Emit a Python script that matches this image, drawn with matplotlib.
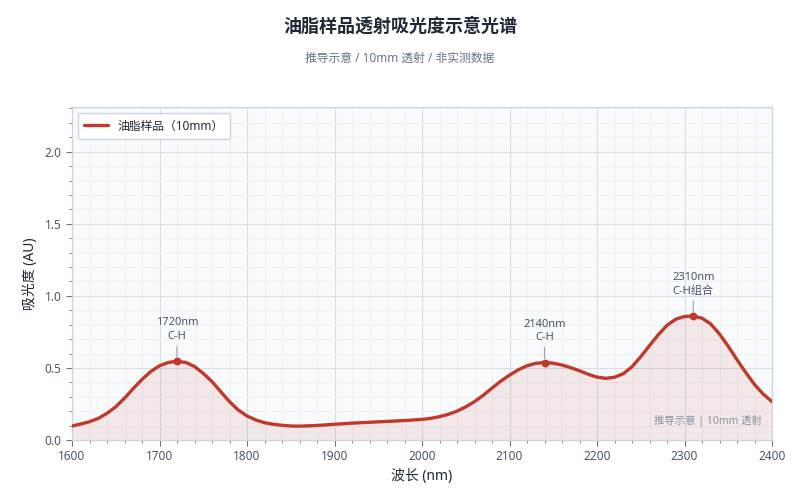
import numpy as np
import matplotlib
matplotlib.use("Agg")
import matplotlib.pyplot as plt
from matplotlib.ticker import MultipleLocator

plt.rcParams['font.family'] = ['Noto Sans', 'Noto Sans CJK SC', 'DejaVu Sans']

# spectrum values (every 10 nm)
wavelength = list(range(1600, 2401, 10))
absorbance = [
    0.097, 0.111, 0.127, 0.150, 0.185, 0.230, 0.290, 0.357, 0.420, 0.475,   # 1600-1690
    0.515, 0.538, 0.546, 0.538, 0.510, 0.462, 0.405, 0.335, 0.266, 0.208,   # 1700-1790
    0.167, 0.139, 0.120, 0.109, 0.102, 0.097, 0.096, 0.098, 0.101, 0.105,   # 1800-1890
    0.109, 0.113, 0.117, 0.120, 0.123, 0.126, 0.129, 0.132, 0.135, 0.139,   # 1900-1990
    0.143, 0.150, 0.162, 0.178, 0.200, 0.230, 0.266, 0.310, 0.360, 0.408,   # 2000-2090
    0.450, 0.487, 0.515, 0.532, 0.537, 0.533, 0.520, 0.502, 0.480, 0.456,   # 2100-2190
    0.436, 0.428, 0.435, 0.460, 0.508, 0.578, 0.655, 0.730, 0.795, 0.838,   # 2200-2290
    0.857, 0.860, 0.845, 0.805, 0.735, 0.650, 0.557, 0.468, 0.385, 0.318,   # 2300-2390
    0.266,                                                                  # 2400
]

peak_x = [1720, 2140, 2310]
peak_y = [0.546, 0.537, 0.860]
peak_labels = ['1720nm\nC-H', '2140nm\nC-H', '2310nm\nC-H组合']

line_color = '#c0392b'
text_dark = '#1f2937'
text_mid = '#475569'

fig = plt.figure(figsize=(8, 5), dpi=100)
ax = fig.add_axes([0.09, 0.12, 0.875, 0.666])
ax.set_facecolor('#f8fafc')

ax.plot(wavelength, absorbance, color=line_color, linewidth=2.4,
        solid_joinstyle='round', solid_capstyle='round',
        label='油脂样品（10mm）', zorder=3)
ax.fill_between(wavelength, absorbance, color=line_color, alpha=0.09,
                linewidth=0, zorder=2)
ax.scatter(peak_x, peak_y, color=line_color, s=22, zorder=4)

for px, py, lab in zip(peak_x, peak_y, peak_labels):
    ax.annotate(lab, xy=(px, py), xytext=(0, 14), textcoords='offset points',
                ha='center', va='bottom', fontsize=8, color=text_mid,
                linespacing=1.3,
                arrowprops=dict(arrowstyle='-', color='#94a3b8', lw=0.8,
                                shrinkA=1, shrinkB=3))

ax.text(0.986, 0.057, '推导示意 | 10mm 透射', transform=ax.transAxes,
        ha='right', va='center', fontsize=7.5, color='#8a94a3')

ax.set_xlim(1600, 2400)
ax.set_ylim(0, 2.31)
ax.xaxis.set_major_locator(MultipleLocator(100))
ax.xaxis.set_minor_locator(MultipleLocator(20))
ax.yaxis.set_major_locator(MultipleLocator(0.5))
ax.yaxis.set_minor_locator(MultipleLocator(0.1))
ax.yaxis.set_major_formatter(plt.FuncFormatter(lambda v, p: f'{v:.1f}'))

ax.grid(which='major', color='#d5dee9', linewidth=0.8, zorder=0)
ax.grid(which='minor', color='#e9eef5', linewidth=0.6, zorder=0)
ax.set_axisbelow(True)

for s in ax.spines.values():
    s.set_color('#cbd5e1')
    s.set_linewidth(0.9)
ax.tick_params(which='both', colors='#64748b', labelcolor=text_mid,
               labelsize=8.5)
ax.tick_params(which='major', length=4)
ax.tick_params(which='minor', length=2.5)

ax.set_xlabel('波长 (nm)', fontsize=10, color=text_dark, labelpad=4)
ax.set_ylabel('吸光度 (AU)', fontsize=10, color=text_dark, labelpad=5)

leg = ax.legend(loc='upper left', fontsize=8.5, frameon=True, fancybox=True,
                handlelength=2.0, borderpad=0.55, bbox_to_anchor=(0.0, 1.0))
leg.get_frame().set_edgecolor('#cbd5e1')
leg.get_frame().set_facecolor('white')
leg.get_frame().set_alpha(1)
for t in leg.get_texts():
    t.set_color(text_dark)

fig.text(0.5, 0.948, '油脂样品透射吸光度示意光谱', ha='center', va='center',
         fontsize=13, fontweight='bold', color=text_dark)
fig.text(0.5, 0.884, '推导示意 / 10mm 透射 / 非实测数据', ha='center',
         va='center', fontsize=8.5, color='#64748b')

fig.savefig('out.png', dpi=100)
